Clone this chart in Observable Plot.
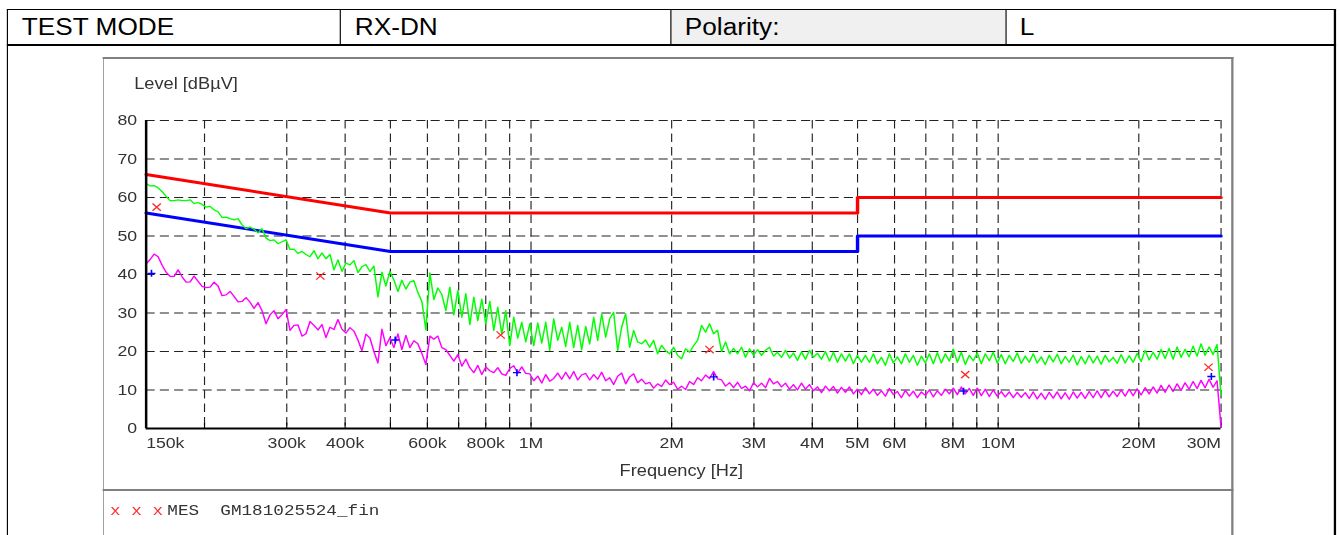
<!DOCTYPE html>
<html>
<head>
<meta charset="utf-8">
<script src="https://cdn.jsdelivr.net/npm/d3@7"></script>
<script src="https://cdn.jsdelivr.net/npm/@observablehq/plot@0.6"></script>
<style>
html,body{margin:0;padding:0;background:#fff;overflow:hidden;width:1340px;height:535px}
#page{position:absolute;left:0;top:0;width:1175.44px;height:535px;transform:scaleX(1.14);transform-origin:0 0;font-family:"Liberation Sans",Arial,sans-serif}
.ln{position:absolute;background:#000}
.gl{position:absolute;background:#808080}
.cell{position:absolute;top:9px;height:36px;line-height:36px;font-size:23px;color:#000;padding-left:13px;box-sizing:border-box;white-space:nowrap}
#chart{position:absolute;left:89.5px;top:58px}
#legend{position:absolute;left:96.5px;top:502px;font-family:"Liberation Mono","Courier New",monospace;font-size:15.5px;line-height:18px;color:#333;white-space:pre}
</style>
</head>
<body>
<div id="page"></div>
<script>
// ---------- header ----------
const headerTexts = ["TEST MODE", "RX-DN", "Polarity:", "L"];
const legendMarks = "x x x";
const legendText = "MES  GM181025524_fin";

// ---------- axes ----------
const yTicks = [0, 10, 20, 30, 40, 50, 60, 70, 80];
const yGrid = [10, 20, 30, 40, 50, 60, 70, 80];
const xGrid = [2e5, 3e5, 4e5, 5e5, 6e5, 7e5, 8e5, 9e5, 1e6, 2e6, 3e6, 4e6, 5e6, 6e6, 7e6, 8e6, 9e6, 1e7, 2e7, 3e7];
const xTickFreqs = [150e3, 300e3, 400e3, 600e3, 800e3, 1e6, 2e6, 3e6, 4e6, 5e6, 6e6, 8e6, 10e6, 20e6, 30e6];
const xTickLabels = ["150k", "300k", "400k", "600k", "800k", "1M", "2M", "3M", "4M", "5M", "6M", "8M", "10M", "20M", "30M"];
const yTitle = "Level [dBµV]";
const xTitle = "Frequency [Hz]";

// ---------- limit lines ----------
const limitFreqs = [150e3, 500e3, 5e6, 5e6, 30e6];
const qpLimit = [66, 56, 56, 60, 60];
const avLimit = [56, 46, 46, 50, 50];

// ---------- sweep (receiver scan 150 kHz .. 30 MHz) ----------
const sweepStart = 150e3, sweepStop = 30e6;
const peakLevels = [
63.6,63.0,63.1,62.5,61.5,60.3,59.2,59.2,59.4,59.2,
59.2,59.4,58.4,58.7,58.2,57.5,57.7,56.8,56.3,54.8,
54.9,54.5,54.2,54.5,52.9,51.9,52.3,51.8,50.8,51.9,
49.5,48.8,49.0,48.0,48.5,49.0,46.5,46.6,45.5,46.0,
45.2,44.6,46.2,44.1,45.6,44.1,45.2,41.2,43.8,40.8,
43.0,42.5,43.6,40.5,42.0,42.6,40.8,42.2,34.2,40.6,
37.0,40.8,38.6,35.6,38.5,36.2,38.0,38.4,35.3,33.0,
25.6,40.4,33.5,36.5,34.8,30.6,36.7,29.5,35.8,28.9,
35.0,27.0,34.1,28.0,33.6,27.2,33.0,25.5,31.5,24.5,
30.6,21.5,28.9,23.5,27.6,22.5,27.2,21.5,27.4,22.2,
27.6,20.3,28.5,22.9,26.3,21.3,27.6,21.0,26.8,20.5,
26.5,22.0,28.9,22.9,29.8,23.7,28.5,30.2,20.3,26.3,
29.8,21.1,25.5,22.5,22.0,23.0,21.1,22.9,19.4,21.6,
20.2,19.4,21.1,19.0,18.1,20.7,19.8,21.5,22.9,26.8,
25.0,27.2,24.6,25.5,20.0,22.5,19.4,20.8,19.4,21.1,
18.5,20.7,19.0,20.5,19.0,20.3,21.1,18.8,19.8,18.5,
20.3,18.3,19.6,17.7,19.9,18.0,20.3,18.5,19.5,18.0,
20.0,17.5,19.8,17.2,19.4,17.5,19.4,16.8,19.0,17.2,
19.0,17.2,19.4,16.8,18.5,16.4,19.4,17.0,18.6,16.8,
19.4,17.2,19.0,16.4,18.8,17.0,19.4,16.8,19.7,17.0,
19.4,17.5,20.6,17.2,19.8,16.6,19.0,17.6,19.6,16.8,
19.4,17.6,19.8,17.0,19.2,16.8,19.0,17.4,19.6,16.9,
18.8,17.2,19.4,17.0,18.6,16.6,19.0,17.3,19.3,16.8,
18.7,17.2,19.1,16.5,18.7,16.8,19.0,17.0,18.8,16.7,
19.0,17.3,18.5,16.9,19.2,17.0,18.9,17.2,19.5,17.4,
20.3,17.8,19.8,18.0,20.5,18.2,20.8,18.0,21.2,18.5,
20.6,18.6,21.4,18.8,22.0,19.0,21.2,19.2,21.8,8.6];
const avgLevels = [
42.8,43.9,45.3,44.6,42.4,40.6,39.5,39.5,41.2,39.4,
38.0,38.1,39.6,38.2,36.9,36.6,36.7,38.0,37.0,34.5,
34.7,35.6,34.3,32.9,33.0,34.0,32.8,31.2,32.7,30.6,
27.2,29.5,30.6,28.5,29.6,30.9,25.5,26.8,26.9,24.0,
24.6,27.8,26.8,25.6,27.0,23.6,26.3,25.7,28.3,25.8,
24.8,26.2,25.3,23.0,20.2,24.5,23.5,20.0,17.0,25.8,
21.5,23.6,21.0,24.6,20.5,24.2,21.0,22.8,22.0,19.5,
16.6,24.0,23.2,24.0,21.0,20.5,19.0,17.5,19.2,16.2,
18.0,15.8,14.5,16.4,14.0,16.0,15.0,14.5,15.8,14.2,
13.8,15.6,16.3,14.4,16.0,14.3,14.2,12.4,13.6,11.8,
14.0,12.3,13.0,14.4,12.8,14.6,12.9,14.8,12.6,13.9,
14.3,12.6,14.0,12.8,14.6,12.4,13.2,11.4,13.6,14.4,
11.6,13.4,14.2,11.9,12.8,11.6,12.0,10.5,11.6,10.9,
12.6,11.4,12.0,10.2,11.0,10.1,12.2,11.4,13.2,12.4,
13.9,13.0,14.8,12.9,12.6,11.0,11.9,10.6,12.0,10.4,
11.0,9.8,11.9,10.8,11.8,10.6,13.0,11.6,12.2,10.8,
11.8,10.2,11.4,10.0,11.8,10.2,11.4,9.8,10.8,9.3,
11.0,9.8,10.9,9.2,10.7,9.4,10.8,9.0,10.2,8.8,
10.6,9.0,10.2,8.6,9.8,8.4,10.4,8.8,9.6,8.0,
9.9,8.4,9.7,8.0,9.5,8.6,10.0,8.2,9.8,8.6,
10.2,9.0,10.5,8.8,10.8,9.0,10.4,8.6,10.5,8.5,
10.2,8.3,10.0,8.4,9.6,8.2,9.5,8.0,9.4,8.1,
9.3,7.8,9.5,7.7,9.2,7.6,9.4,7.9,9.5,7.7,
9.3,7.6,9.5,7.9,9.4,7.8,9.6,8.0,9.8,8.0,
9.9,8.2,9.7,8.3,10.0,8.4,10.2,8.5,10.3,8.7,
10.6,9.0,10.8,9.2,11.2,9.4,11.3,9.6,11.6,9.9,
11.9,10.2,12.2,10.4,12.5,10.6,12.8,10.7,12.4,0.3];

// ---------- final measurement markers ----------
const qpFreqs = [0.158e6, 0.354e6, 0.861e6, 2.41e6, 8.5e6, 28.2e6];
const qpValues = [57.5, 39.6, 24.3, 20.5, 14.0, 15.9];
const avFreqs = [0.154e6, 0.512e6, 0.933e6, 2.46e6, 8.43e6, 28.6e6];
const avValues = [40.3, 23.0, 14.5, 13.4, 9.7, 13.5];

// ---------- build tables ----------
const sweepFreq = (i, n) => sweepStart * Math.pow(sweepStop / sweepStart, i / (n - 1));
const peakData = peakLevels.map((v, i) => ({f: sweepFreq(i, peakLevels.length), v}));
const avgData = avgLevels.map((v, i) => ({f: sweepFreq(i, avgLevels.length), v}));
const qpLimitData = limitFreqs.map((f, i) => ({f, v: qpLimit[i]}));
const avLimitData = limitFreqs.map((f, i) => ({f, v: avLimit[i]}));
const qpData = qpFreqs.map((f, i) => ({f, v: qpValues[i]}));
const avData = avFreqs.map((f, i) => ({f, v: avValues[i]}));
const tickData = xTickFreqs.map((f, i) => ({f, label: xTickLabels[i]}));
const tickFirst = tickData.slice(0, 1);
const tickMid = tickData.slice(1, -1);
const tickLast = tickData.slice(-1);

const page = document.getElementById("page");
function add(cls, style, html) {
  const d = document.createElement("div");
  d.className = cls;
  Object.assign(d.style, style);
  if (html != null) d.textContent = html;
  page.appendChild(d);
  return d;
}

// header cells
const cellX = [6.1, 298.2, 587.7, 881.6, 1171];
headerTexts.forEach((t, i) => {
  add("cell", {left: cellX[i] + "px", width: (cellX[i + 1] - cellX[i]) + "px", background: i === 2 ? "#f0f0f0" : "#fff"}, t);
});

// chart
const chart = Plot.plot({
  width: 992,
  height: 432,
  marginLeft: 37.7,
  marginRight: 11.4,
  marginTop: 62,
  marginBottom: 62,
  x: {type: "log", domain: [sweepStart, sweepStop], axis: null},
  y: {domain: [0, 80], axis: null},
  style: {fontFamily: "'Liberation Sans', Arial, sans-serif", fontSize: "15.5px", color: "#333", background: "transparent", overflow: "visible"},
  marks: [
    Plot.gridY(yGrid, {stroke: "#222", strokeOpacity: 1, strokeDasharray: "8,4.5", strokeWidth: 1}),
    Plot.gridX(xGrid, {stroke: "#222", strokeOpacity: 1, strokeDasharray: "8.5,5", strokeWidth: 1}),
    Plot.ruleX(xGrid, {y1: 0, y2: 1.4, stroke: "#000", strokeWidth: 1}),
    Plot.line(qpLimitData, {x: "f", y: "v", stroke: "#ff0000", strokeWidth: 3}),
    Plot.line(avLimitData, {x: "f", y: "v", stroke: "#0000ff", strokeWidth: 3}),
    Plot.line(peakData, {x: "f", y: "v", stroke: "#00ff00", strokeWidth: 1.3}),
    Plot.line(avgData, {x: "f", y: "v", stroke: "#ff00ff", strokeWidth: 1.3}),
    Plot.ruleY([0], {stroke: "#000", strokeWidth: 2}),
    Plot.ruleX([sweepStart], {stroke: "#000", strokeWidth: 2.2}),
    Plot.dot(qpData, {x: "f", y: "v", symbol: "times", r: 3.4, stroke: "#ff2a2a", strokeWidth: 1.2}),
    Plot.dot(avData, {x: "f", y: "v", symbol: "plus", r: 2.4, stroke: "#0000ff", strokeWidth: 1.4}),
    Plot.axisY({ticks: yTicks, label: null, tickSize: 0, tickPadding: 8, fontSize: 15.5, fill: "#333"}),
    Plot.text(tickFirst, {x: "f", text: "label", frameAnchor: "bottom", dy: 15, lineAnchor: "middle", textAnchor: "start", fill: "#333", fontSize: 15.5}),
    Plot.text(tickMid, {x: "f", text: "label", frameAnchor: "bottom", dy: 15, lineAnchor: "middle", textAnchor: "middle", fill: "#333", fontSize: 15.5}),
    Plot.text(tickLast, {x: "f", text: "label", frameAnchor: "bottom", dy: 15, lineAnchor: "middle", textAnchor: "end", fill: "#333", fontSize: 15.5}),
    Plot.text([yTitle], {text: d => d, frameAnchor: "top-left", dx: -10.5, dy: -37, lineAnchor: "middle", textAnchor: "start", fill: "#333", fontSize: 16}),
    Plot.text([xTitle], {text: d => d, frameAnchor: "bottom", dx: -2, dy: 42, lineAnchor: "middle", textAnchor: "middle", fill: "#333", fontSize: 16})
  ]
});
const holder = document.createElement("div");
holder.id = "chart";
holder.appendChild(chart);
page.appendChild(holder);

// legend
const leg = document.createElement("div");
leg.id = "legend";
const s1 = document.createElement("span"); s1.style.color = "#ff3333"; s1.textContent = legendMarks;
const s2 = document.createElement("span"); s2.style.marginLeft = "0.4ch"; s2.textContent = legendText;
leg.appendChild(s1); leg.appendChild(s2);
page.appendChild(leg);

// frames (drawn on top)
add("ln", {left: "6.1px", top: "9px", width: "1166px", height: "1px"});
add("ln", {left: "6.1px", top: "44px", width: "1166px", height: "2px"});
add("ln", {left: "5.5px", top: "9px", width: "1.75px", height: "530px"});
add("ln", {left: "1170.4px", top: "9px", width: "1.4px", height: "530px"});
add("ln", {left: "298.2px", top: "9px", width: "0.9px", height: "36px"});
add("ln", {left: "587.7px", top: "9px", width: "0.9px", height: "36px"});
add("ln", {left: "881.6px", top: "9px", width: "0.9px", height: "36px"});
add("gl", {left: "89.5px", top: "57px", width: "992px", height: "2px"});
add("gl", {left: "89.5px", top: "57px", width: "1.75px", height: "480px"});
add("gl", {left: "1080px", top: "57px", width: "1.75px", height: "480px"});
add("gl", {left: "89.5px", top: "489px", width: "992px", height: "2px"});
</script>
</body>
</html>
